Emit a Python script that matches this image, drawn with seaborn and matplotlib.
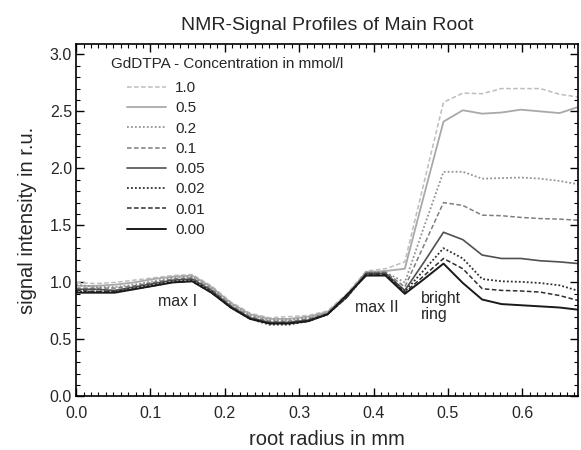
import pandas as pd
import matplotlib
matplotlib.use("Agg")
import matplotlib.pyplot as plt
import seaborn as sns
from matplotlib.ticker import MultipleLocator, FormatStrFormatter

sns.set_style("ticks")
plt.rcParams['font.family'] = ['Liberation Sans', 'DejaVu Sans']

# radius positions (mm)
radius = [0.000, 0.026, 0.052, 0.078, 0.104, 0.130, 0.156, 0.182, 0.208,
          0.234, 0.260, 0.286, 0.312, 0.338, 0.364, 0.390, 0.416, 0.442,
          0.468, 0.494, 0.520, 0.546, 0.572, 0.598, 0.624, 0.650, 0.676]

# signal intensity per GdDTPA concentration (r.u.)
c_1_0 = [1.00, 0.99, 1.00, 1.02, 1.04, 1.06, 1.07, 0.97, 0.83, 0.73, 0.69, 0.70, 0.71, 0.75,
         0.90, 1.10, 1.12, 1.18, 1.88, 2.58, 2.66, 2.655, 2.70, 2.70, 2.70, 2.65, 2.625]
c_0_5 = [0.97, 0.97, 0.98, 1.00, 1.03, 1.05, 1.06, 0.96, 0.82, 0.72, 0.68, 0.68, 0.70, 0.74,
         0.89, 1.09, 1.10, 1.12, 1.77, 2.41, 2.51, 2.48, 2.49, 2.515, 2.50, 2.485, 2.54]
c_0_2 = [0.98, 0.96, 0.96, 0.98, 1.01, 1.04, 1.05, 0.95, 0.81, 0.71, 0.67, 0.67, 0.69, 0.73,
         0.88, 1.09, 1.09, 1.00, 1.49, 1.97, 1.97, 1.91, 1.915, 1.92, 1.91, 1.89, 1.86]
c_0_1 = [0.95, 0.95, 0.95, 0.97, 1.00, 1.03, 1.04, 0.94, 0.80, 0.70, 0.66, 0.66, 0.68, 0.73,
         0.88, 1.08, 1.09, 0.96, 1.33, 1.70, 1.675, 1.59, 1.585, 1.57, 1.56, 1.555, 1.545]
c_0_05 = [0.94, 0.94, 0.93, 0.96, 0.99, 1.02, 1.03, 0.93, 0.79, 0.69, 0.65, 0.65, 0.67, 0.72,
          0.87, 1.08, 1.08, 0.93, 1.18, 1.44, 1.375, 1.24, 1.21, 1.21, 1.19, 1.18, 1.165]
c_0_02 = [0.92, 0.92, 0.92, 0.95, 0.98, 1.01, 1.02, 0.92, 0.78, 0.68, 0.63, 0.63, 0.66, 0.72,
          0.87, 1.07, 1.07, 0.92, 1.11, 1.30, 1.21, 1.03, 1.01, 1.005, 0.995, 0.975, 0.925]
c_0_01 = [0.93, 0.92, 0.92, 0.94, 0.97, 1.00, 1.01, 0.91, 0.78, 0.68, 0.64, 0.64, 0.66, 0.72,
          0.87, 1.07, 1.07, 0.91, 1.06, 1.21, 1.12, 0.945, 0.93, 0.925, 0.915, 0.885, 0.84]
c_0_00 = [0.91, 0.91, 0.91, 0.94, 0.97, 1.00, 1.01, 0.91, 0.78, 0.68, 0.64, 0.64, 0.66, 0.72,
          0.89, 1.06, 1.06, 0.90, 1.03, 1.165, 0.995, 0.85, 0.81, 0.80, 0.79, 0.78, 0.76]

labels = ["1.0", "0.5", "0.2", "0.1", "0.05", "0.02", "0.01", "0.00"]
series = [c_1_0, c_0_5, c_0_2, c_0_1, c_0_05, c_0_02, c_0_01, c_0_00]

# line styles: (colour, dash pattern, width)
styles = [
    ("#bdbdbd", (3, 1.6), 1.1),
    ("#a9a9a9", None, 1.3),
    ("#939393", (1, 1.2), 1.3),
    ("#7e7e7e", (3, 1.6), 1.1),
    ("#505050", None, 1.2),
    ("#2e2e2e", (1, 1.2), 1.3),
    ("#2e2e2e", (3, 1.6), 1.1),
    ("#1a1a1a", None, 1.4),
]

fig = plt.figure(figsize=(5.81, 4.5), dpi=100)
ax = fig.add_axes([0.131, 0.119, 0.864, 0.783])

for lab, vals, (col, dash, lw) in zip(labels, series, styles):
    df = pd.DataFrame({"radius": radius, "signal": vals})
    sns.lineplot(data=df, x="radius", y="signal", ax=ax, color=col, lw=lw, label=lab)
    line = ax.get_lines()[-1]
    if dash is not None:
        line.set_dashes(dash)

ax.set_xlim(0, 0.675)
ax.set_ylim(0, 3.09)
ax.xaxis.set_major_locator(MultipleLocator(0.1))
ax.xaxis.set_minor_locator(MultipleLocator(0.01))
ax.yaxis.set_major_locator(MultipleLocator(0.5))
ax.yaxis.set_minor_locator(MultipleLocator(0.1))
ax.xaxis.set_major_formatter(FormatStrFormatter('%.1f'))
ax.yaxis.set_major_formatter(FormatStrFormatter('%.1f'))
ax.tick_params(which='both', direction='in', top=True, right=True, color='black', labelsize=11.5)
ax.tick_params(which='major', length=6, width=1)
ax.tick_params(which='minor', length=3, width=0.8)
ax.tick_params(axis='x', which='major', pad=7)
ax.tick_params(axis='y', which='major', pad=3)
for s in ax.spines.values():
    s.set_color('black')
    s.set_linewidth(1.2)

ax.set_title("NMR-Signal Profiles of Main Root", fontsize=14, pad=10)
ax.set_xlabel("root radius in mm", fontsize=14.5, labelpad=6)
ax.set_ylabel("signal intensity in r.u.", fontsize=14.5, labelpad=9)

ax.text(0.0467, 2.918, "GdDTPA - Concentration in mmol/l", fontsize=11, va='center', ha='left')
leg = ax.legend(loc='upper left', bbox_to_anchor=(0.101, 0.895), frameon=False, fontsize=11,
                handlelength=2.57, handletextpad=0.59, labelspacing=0.41,
                borderpad=0, borderaxespad=0)

ax.text(0.136, 0.83, "max I", fontsize=11.5, ha='center', va='center')
ax.text(0.404, 0.78, "max II", fontsize=11.5, ha='center', va='center')
ax.text(0.464, 0.79, "bright\nring", fontsize=11.5, ha='left', va='center', linespacing=1.1)

fig.savefig("out.png", dpi=100)
